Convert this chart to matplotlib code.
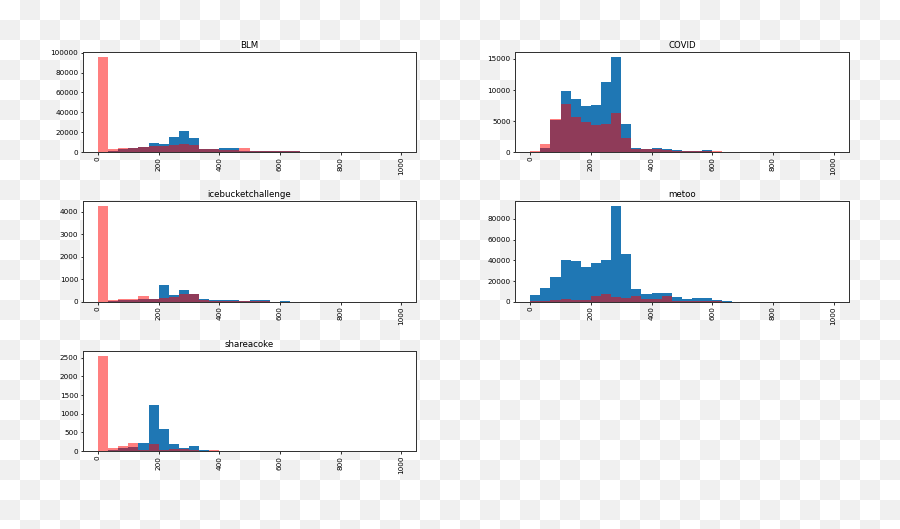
import numpy as np
import matplotlib
matplotlib.use('Agg')
import matplotlib.pyplot as plt

# 30 bins of equal width over 0..1000
bin_edges = np.linspace(0, 1000, 31)
bin_mid = (bin_edges[:-1] + bin_edges[1:]) / 2

titles = ['BLM', 'COVID', 'icebucketchallenge', 'metoo', 'shareacoke']

blm_blue = [0, 1500, 3500, 4300, 5600, 9700, 8300, 15000, 21300, 14300,
            3300, 3300, 4000, 4600, 1600, 1600, 800, 800, 800, 800,
            0, 0, 0, 0, 0, 0, 0, 0, 0, 0]
blm_red = [96000, 3000, 4300, 4000, 5000, 6600, 6300, 7000, 8700, 7000,
           3300, 3300, 2300, 2600, 4600, 1000, 1000, 1000, 1000, 1000,
           0, 0, 0, 0, 0, 0, 0, 0, 0, 0]

covid_blue = [50, 600, 5250, 9900, 8600, 7500, 7650, 11350, 15370, 4600,
              600, 540, 650, 500, 330, 200, 200, 350, 50, 0,
              0, 0, 0, 0, 0, 0, 0, 0, 0, 0]
covid_red = [270, 1250, 5300, 7760, 5600, 4800, 4400, 4500, 6300, 2280,
             540, 500, 550, 380, 200, 150, 150, 150, 150, 0,
             0, 0, 0, 0, 0, 0, 0, 0, 0, 0]

ice_blue = [0, 30, 75, 80, 100, 135, 735, 300, 540, 330,
            120, 75, 75, 75, 20, 75, 75, 0, 45, 0,
            0, 0, 0, 0, 0, 0, 0, 0, 0, 0]
ice_red = [4240, 75, 135, 135, 240, 135, 180, 210, 345, 330,
           90, 45, 45, 45, 45, 10, 10, 0, 0, 0,
           0, 0, 0, 0, 0, 0, 0, 0, 0, 0]

metoo_blue = [6500, 13700, 23800, 40400, 39400, 33900, 37500, 40400, 92300, 46300,
              12000, 7200, 8100, 8100, 4200, 2600, 3600, 3600, 2000, 650,
              0, 0, 0, 0, 0, 0, 0, 0, 0, 0]
metoo_red = [300, 650, 1300, 2300, 2000, 1300, 5500, 7200, 4900, 3300,
             5500, 2900, 2900, 5500, 1000, 650, 650, 650, 300, 0,
             0, 0, 0, 0, 0, 0, 0, 0, 0, 0]

coke_blue = [0, 35, 80, 100, 225, 1235, 590, 190, 90, 135,
             20, 15, 15, 0, 0, 0, 0, 0, 0, 0,
             0, 0, 0, 0, 0, 0, 0, 0, 0, 0]
coke_red = [2550, 80, 135, 215, 35, 195, 35, 60, 55, 45,
            0, 35, 0, 0, 0, 0, 0, 0, 0, 0,
            0, 0, 0, 0, 0, 0, 0, 0, 0, 0]

blues = [blm_blue, covid_blue, ice_blue, metoo_blue, coke_blue]
reds = [blm_red, covid_red, ice_red, metoo_red, coke_red]

plt.rcParams['font.size'] = 7.2

fig, axes = plt.subplots(3, 2, figsize=(900 / 72, 529 / 72), dpi=72)
fig.patch.set_alpha(0)

# transparent-background checkerboard
yy, xx = np.mgrid[0:529, 0:900]
board = np.where((yy // 20 + xx // 20) % 2 == 1, 0.941, 1.0)
fig.figimage(board, xo=0, yo=0, cmap='gray', vmin=0, vmax=1, origin='upper', zorder=-1)

for ax, title, b, r in zip(axes.flat, titles, blues, reds):
    ax.hist(bin_mid, bins=bin_edges, weights=b, color='#1f77b4')
    ax.hist(bin_mid, bins=bin_edges, weights=r, color='red', alpha=0.5)
    ax.set_title(title, fontsize=8.6, pad=4)
    ax.tick_params(axis='x', labelrotation=90)
    ax.tick_params(length=2.5, pad=2)
    ax.set_facecolor('white')
    for sp in ax.spines.values():
        sp.set_color('#333333')
        sp.set_linewidth(1.0)

fig.delaxes(axes[2, 1])

plt.subplots_adjust(left=0.092, right=0.943, top=0.902, bottom=0.147,
                    wspace=0.296, hspace=0.49)
plt.savefig('out.png', dpi=72)
